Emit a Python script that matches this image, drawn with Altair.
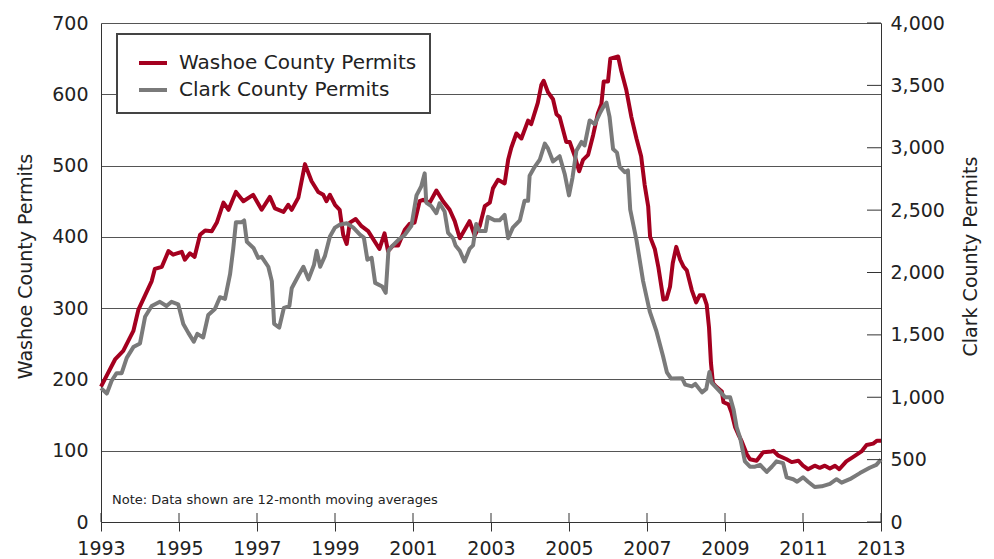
import altair as alt
import pandas as pd

washoe_year = [1993.0, 1993.36, 1993.57, 1993.83, 1993.96, 1994.3, 1994.38, 1994.56, 1994.73, 1994.85,
               1995.07, 1995.15, 1995.28, 1995.4, 1995.54, 1995.67, 1995.84, 1995.97, 1996.14, 1996.27,
               1996.46, 1996.65, 1996.9, 1997.12, 1997.33, 1997.46, 1997.68, 1997.8, 1997.89, 1998.06,
               1998.23, 1998.4, 1998.57, 1998.7, 1998.78, 1998.87, 1999.0, 1999.12, 1999.21, 1999.3,
               1999.38, 1999.53, 1999.68, 1999.85, 2000.14, 2000.27, 2000.36, 2000.49, 2000.62, 2000.79,
               2000.91, 2001.04, 2001.17, 2001.26, 2001.43, 2001.6, 2001.77, 2001.94, 2002.07, 2002.2,
               2002.45, 2002.58, 2002.71, 2002.84, 2002.97, 2003.05, 2003.18, 2003.35, 2003.44, 2003.52,
               2003.65, 2003.78, 2003.95, 2004.03, 2004.2, 2004.29, 2004.35, 2004.46, 2004.59, 2004.68,
               2004.76, 2004.93, 2005.02, 2005.15, 2005.26, 2005.36, 2005.49, 2005.62, 2005.74, 2005.83,
               2005.89, 2006.0, 2006.06, 2006.26, 2006.34, 2006.47, 2006.6, 2006.73, 2006.85, 2006.94,
               2007.03, 2007.08, 2007.2, 2007.29, 2007.42, 2007.5, 2007.59, 2007.66, 2007.75, 2007.85,
               2007.94, 2008.02, 2008.15, 2008.26, 2008.35, 2008.45, 2008.53, 2008.59, 2008.64, 2008.69,
               2008.77, 2008.92, 2008.96, 2009.09, 2009.17, 2009.26, 2009.34, 2009.43, 2009.56, 2009.64,
               2009.81, 2009.98, 2010.2, 2010.24, 2010.37, 2010.58, 2010.71, 2010.88, 2011.0, 2011.13,
               2011.3, 2011.43, 2011.56, 2011.69, 2011.82, 2011.93, 2012.11, 2012.28, 2012.5, 2012.63,
               2012.8, 2012.9, 2013.0]
washoe_val = [190, 228, 240, 268, 298, 338, 355, 358, 380, 375,
              379, 368, 377, 372, 403, 409, 408, 420, 448, 438,
              463, 450, 459, 438, 456, 440, 435, 445, 438, 455,
              502, 478, 463, 459, 450, 459, 445, 438, 403, 390,
              420, 425, 415, 408, 383, 405, 380, 388, 388, 410,
              418, 420, 450, 452, 448, 465, 450, 438, 422, 398,
              422, 402, 415, 443, 448, 468, 480, 475, 508, 525,
              545, 538, 563, 558, 588, 613, 619, 603, 593, 572,
              568, 533, 533, 513, 492, 508, 515, 543, 573, 586,
              618, 618, 650, 653, 633, 606, 568, 538, 513, 473,
              443, 400, 383, 358, 312, 313, 330, 363, 386, 368,
              358, 353, 325, 308, 318, 318, 305, 273, 223, 195,
              190, 183, 168, 165, 153, 133, 123, 113, 95, 88,
              86, 98, 99, 100, 93, 88, 84, 86, 79, 74,
              79, 76, 79, 75, 79, 74, 85, 91, 99, 108,
              110, 114, 114]

clark_year = [1993.0, 1993.15, 1993.27, 1993.4, 1993.53, 1993.66, 1993.83, 1994.0, 1994.13, 1994.3,
              1994.51, 1994.68, 1994.81, 1994.98, 1995.11, 1995.24, 1995.38, 1995.47, 1995.62, 1995.75,
              1995.92, 1996.05, 1996.18, 1996.31, 1996.39, 1996.46, 1996.61, 1996.67, 1996.74, 1996.91,
              1997.03, 1997.12, 1997.29, 1997.38, 1997.44, 1997.57, 1997.69, 1997.83, 1997.89, 1998.06,
              1998.19, 1998.32, 1998.46, 1998.53, 1998.62, 1998.74, 1998.87, 1999.0, 1999.12, 1999.3,
              1999.47, 1999.64, 1999.74, 1999.83, 1999.94, 2000.03, 2000.21, 2000.3, 2000.37, 2000.44,
              2000.62, 2000.79, 2000.96, 2001.09, 2001.21, 2001.3, 2001.34, 2001.47, 2001.6, 2001.68,
              2001.81, 2001.9, 2002.03, 2002.09, 2002.2, 2002.32, 2002.45, 2002.54, 2002.62, 2002.71,
              2002.86, 2002.92, 2003.09, 2003.22, 2003.35, 2003.44, 2003.56, 2003.74, 2003.86, 2003.95,
              2003.99, 2004.12, 2004.25, 2004.38, 2004.46, 2004.59, 2004.76, 2004.89, 2005.0, 2005.09,
              2005.19, 2005.32, 2005.4, 2005.53, 2005.66, 2005.79, 2005.89, 2005.96, 2006.04, 2006.13,
              2006.23, 2006.3, 2006.43, 2006.51, 2006.57, 2006.73, 2006.9, 2007.07, 2007.24, 2007.41,
              2007.51, 2007.62, 2007.9, 2007.98, 2008.15, 2008.24, 2008.41, 2008.52, 2008.6, 2008.66,
              2008.83, 2009.0, 2009.13, 2009.22, 2009.3, 2009.39, 2009.51, 2009.64, 2009.77, 2009.9,
              2010.07, 2010.2, 2010.32, 2010.49, 2010.58, 2010.75, 2010.85, 2011.0, 2011.13, 2011.3,
              2011.48, 2011.69, 2011.86, 2011.99, 2012.2, 2012.46, 2012.71, 2012.88, 2013.0]
clark_val = [1073, 1030, 1130, 1193, 1193, 1316, 1402, 1431, 1645, 1731,
             1765, 1731, 1765, 1745, 1588, 1516, 1445, 1508, 1479, 1659,
             1708, 1802, 1788, 1988, 2189, 2403, 2403, 2417, 2246, 2197,
             2117, 2126, 2046, 1931, 1588, 1559, 1717, 1731, 1874, 1974,
             2046, 1945, 2060, 2174, 2046, 2131, 2289, 2360, 2383, 2395,
             2360, 2303, 2280, 2103, 2117, 1917, 1888, 1837, 2174, 2203,
             2260, 2303, 2375, 2618, 2689, 2795, 2561, 2532, 2475, 2555,
             2489, 2317, 2274, 2217, 2174, 2088, 2189, 2217, 2389, 2332,
             2332, 2446, 2418, 2418, 2461, 2274, 2360, 2418, 2575, 2575,
             2775, 2847, 2904, 3033, 2995, 2890, 2932, 2790, 2618, 2761,
             2976, 3047, 3018, 3219, 3190, 3276, 3333, 3362, 3247, 2990,
             2961, 2847, 2804, 2818, 2504, 2260, 1931, 1688, 1531, 1330,
             1200, 1150, 1153, 1101, 1087, 1107, 1039, 1067, 1202, 1116,
             1059, 1001, 1001, 901, 758, 672, 486, 443, 443, 458,
             401, 443, 486, 472, 358, 343, 323, 358, 323, 280,
             286, 306, 343, 315, 343, 392, 435, 458, 501]

x_ticks = list(range(1993, 2014, 2))
left_ticks = list(range(0, 701, 100))
right_ticks = list(range(0, 4001, 500))
series_names = ["Washoe County Permits", "Clark County Permits"]
series_colors = ["#a4001f", "#7a7a7a"]
note_text = "Note: Data shown are 12-month moving averages"

FONT = "DejaVu Sans"
INK = "#222222"
AXIS_LINE = "#333333"

dw = pd.DataFrame({"year": washoe_year, "value": washoe_val, "series": series_names[0]})
dc = pd.DataFrame({"year": clark_year, "value": clark_val, "series": series_names[1]})
dxt = pd.DataFrame({"year": x_ticks})
drt = pd.DataFrame({"value": right_ticks})

x_enc = alt.X(
    "year:Q",
    scale=alt.Scale(domain=[1993, 2013], nice=False, zero=False),
    axis=alt.Axis(values=x_ticks, format="d", title=None, grid=False, tickSize=9,
                  tickColor=AXIS_LINE, domainColor=AXIS_LINE, labelPadding=8,
                  labelFontSize=19, labelFont=FONT, labelColor=INK, labelFlush=False),
)

color_enc = alt.Color(
    "series:N",
    scale=alt.Scale(domain=series_names, range=series_colors),
    legend=alt.Legend(title=None, orient="none", legendX=16, legendY=11, direction="vertical",
                      symbolType="stroke", symbolSize=784, symbolStrokeWidth=4, symbolOffset=7,
                      labelFontSize=20, labelFont=FONT, labelColor=INK,
                      strokeColor="#444444", fillColor="white", padding=13, rowPadding=1,
                      labelOffset=10, labelLimit=400),
)

y_left = alt.Y(
    "value:Q",
    scale=alt.Scale(domain=[0, 700], nice=False),
    axis=alt.Axis(values=left_ticks, orient="left", title="Washoe County Permits", grid=True,
                  gridColor="#555555", gridWidth=1, tickSize=0, domainColor=AXIS_LINE,
                  labelPadding=13, labelFontSize=19, labelFont=FONT, labelColor=INK,
                  titleFontSize=19, titleFont=FONT, titleColor=INK, titleFontWeight="normal",
                  titleAngle=270, titleAlign="center", titleBaseline="middle",
                  titleX=-76, titleY=243),
)

y_right = alt.Y(
    "value:Q",
    scale=alt.Scale(domain=[0, 4000], nice=False),
    axis=alt.Axis(values=right_ticks, orient="right", title="Clark County Permits", grid=False,
                  tickSize=0, domainColor=AXIS_LINE, format=",d",
                  labelPadding=9, labelFontSize=19, labelFont=FONT, labelColor=INK,
                  titleFontSize=19, titleFont=FONT, titleColor=INK, titleFontWeight="normal",
                  titleAngle=270, titleAlign="center", titleBaseline="middle",
                  titleX=89, titleY=233),
)

washoe_line = alt.Chart(dw).mark_line(strokeWidth=4, strokeJoin="round").encode(
    x=x_enc, y=y_left, color=color_enc)

x_inner_ticks = alt.Chart(dxt).mark_rule(color=AXIS_LINE, strokeWidth=1).encode(
    x=alt.X("year:Q"), y=alt.value(490), y2=alt.value(499))

note = alt.Chart(pd.DataFrame({"t": [note_text]})).mark_text(
    align="left", baseline="middle", fontSize=13, font=FONT, color=INK
).encode(text="t:N", x=alt.value(11), y=alt.value(477))

clark_line = alt.Chart(dc).mark_line(strokeWidth=4, strokeJoin="round").encode(
    x=x_enc, y=y_right, color=color_enc)

right_inner_ticks = alt.Chart(drt).mark_rule(color=AXIS_LINE, strokeWidth=1).encode(
    y=y_right, x=alt.value(766), x2=alt.value(780))

left_layer = alt.layer(washoe_line, note, x_inner_ticks)
right_layer = alt.layer(clark_line, right_inner_ticks)

chart = alt.layer(left_layer, right_layer).resolve_scale(y="independent").properties(
    width=780, height=499,
    padding={"left": 93, "top": 15, "right": 105, "bottom": 37},
    autosize=alt.AutoSizeParams(type="none"),
    background="white",
).configure_view(stroke=None).configure_legend(strokeWidth=2)

chart.save("out.html", embed_options={"renderer": "svg", "actions": False})
